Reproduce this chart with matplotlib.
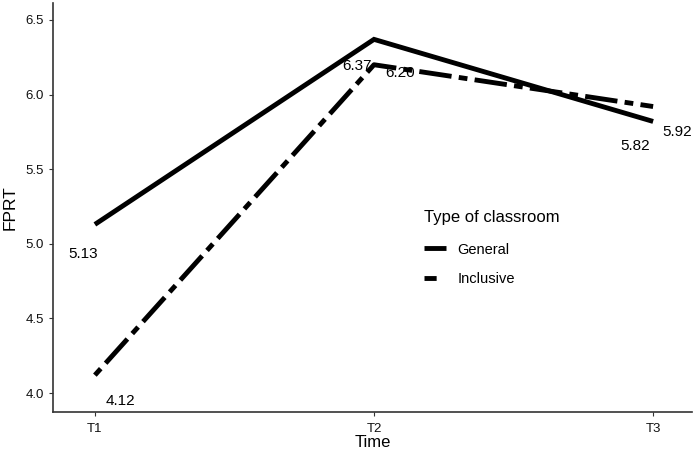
import matplotlib
matplotlib.use("Agg")
import matplotlib.pyplot as plt
from matplotlib.lines import Line2D

plt.rcParams['font.family'] = ['Liberation Sans', 'DejaVu Sans']

times = ["T1", "T2", "T3"]
general = [5.13, 6.37, 5.82]
inclusive = [4.12, 6.20, 5.92]
general_labels = ["5.13", "6.37", "5.82"]
inclusive_labels = ["4.12", "6.20", "5.92"]

fig = plt.figure(figsize=(6.94, 4.55), dpi=100)
ax = fig.add_axes([0.0764, 0.0945, 0.921, 0.899])

x = [1, 2, 3]
lw = 3.5
ax.plot(x, general, color="black", lw=lw, solid_capstyle="butt", solid_joinstyle="miter")
ax.plot(x, inclusive, color="black", lw=lw, dashes=(1.8, 1.5, 6.7, 1.5), dash_capstyle="butt")

# value label offsets in pixels (dx, dy)
offs_g = [(-12, -30), (-17, -27), (-18, -25)]
offs_i = [(26, -26), (26, -8), (24, -25)]
for xi, v, s, off in zip(x, general, general_labels, offs_g):
    ax.annotate(s, (xi, v), xytext=off, textcoords="offset pixels",
                ha="center", va="center", fontsize=11)
for xi, v, s, off in zip(x, inclusive, inclusive_labels, offs_i):
    ax.annotate(s, (xi, v), xytext=off, textcoords="offset pixels",
                ha="center", va="center", fontsize=11)

ax.set_xlim(0.85, 3.14)
ax.set_ylim(3.873, 6.614)
ax.set_xticks(x)
ax.set_xticklabels(times)
ax.set_yticks([4.0, 4.5, 5.0, 5.5, 6.0, 6.5])
ax.set_yticklabels(["4.0", "4.5", "5.0", "5.5", "6.0", "6.5"])
ax.tick_params(labelsize=9.5, length=3, color="#333333", labelcolor="#111111")
ax.tick_params(axis="x", pad=5)
ax.set_xlabel("Time", fontsize=12, labelpad=0)
ax.set_ylabel("FPRT", fontsize=12.5, labelpad=6)
for s in ["top", "right"]:
    ax.spines[s].set_visible(False)
for s in ["left", "bottom"]:
    ax.spines[s].set_color("#333333")
    ax.spines[s].set_linewidth(1.2)

handles = [Line2D([], [], color="black", lw=lw, solid_capstyle="butt"),
           Line2D([], [], color="black", lw=lw, dashes=(2.5, 2.1, 0.4, 10), dash_capstyle="butt")]
leg = ax.legend(handles, ["General", "Inclusive"], title="Type of classroom",
                frameon=False, loc="upper left", bbox_to_anchor=(0.58, 0.495),
                borderpad=0, borderaxespad=0,
                fontsize=10.5, title_fontsize=12, handlelength=1.5,
                handletextpad=0.8, alignment="left", labelspacing=1.05)
leg._legend_box.sep = 13

fig.savefig("out.png", dpi=100)
